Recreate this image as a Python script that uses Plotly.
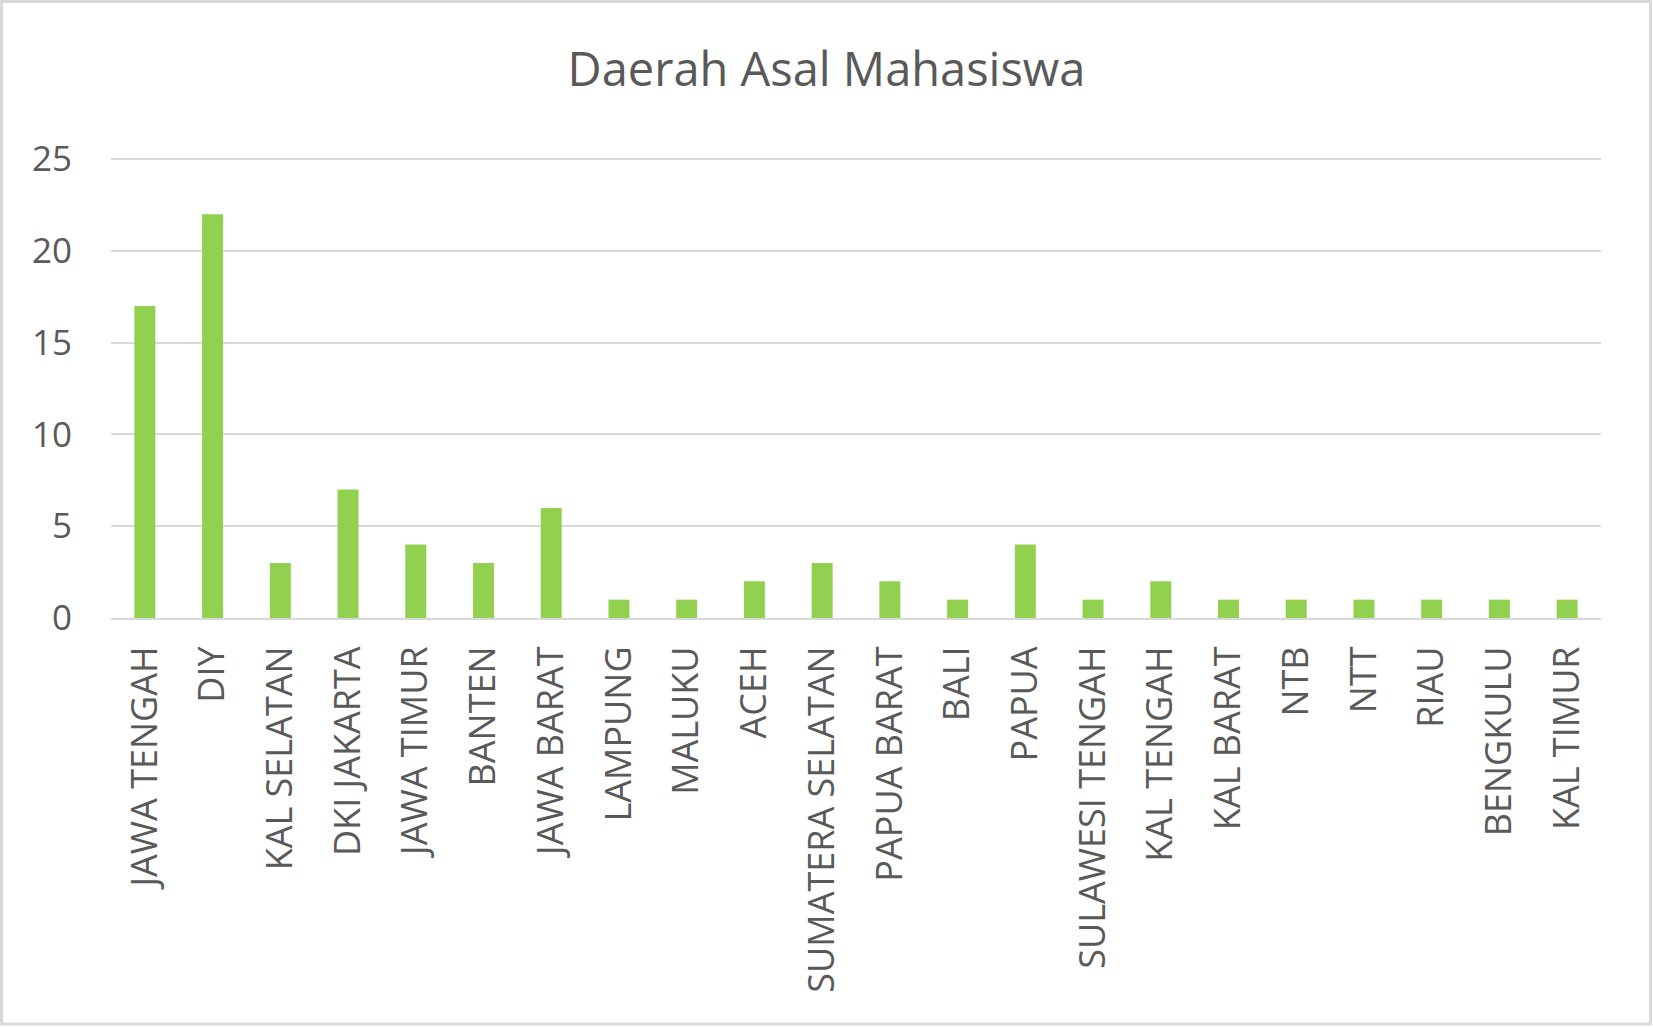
import plotly.graph_objects as go

# Asal daerah mahasiswa (jumlah per provinsi)
categories = [
    "JAWA TENGAH", "DIY", "KAL SELATAN", "DKI JAKARTA", "JAWA TIMUR", "BANTEN",
    "JAWA BARAT", "LAMPUNG", "MALUKU", "ACEH", "SUMATERA SELATAN", "PAPUA BARAT",
    "BALI", "PAPUA", "SULAWESI TENGAH", "KAL TENGAH", "KAL BARAT", "NTB", "NTT",
    "RIAU", "BENGKULU", "KAL TIMUR",
]
counts = [17, 22, 3, 7, 4, 3, 6, 1, 1, 2, 3, 2, 1, 4, 1, 2, 1, 1, 1, 1, 1, 1]
y_ticks = [0, 5, 10, 15, 20, 25]
y_max = 25.5

W, H = 1653, 1027
ML, MR, MT, MB = 111, 52, 150, 409
TEXT = "#595959"
GRID = "#D9D9D9"
FONT = "Open Sans"

fig = go.Figure(
    go.Bar(
        x=categories,
        y=counts,
        marker=dict(color="#92D050", line=dict(width=0)),
        hoverinfo="x+y",
    )
)

# chart-area border, converted from pixels to paper coordinates
pw, ph = W - ML - MR, H - MT - MB
def px_x(v):
    return (v - ML) / pw
def px_y(v):
    return (H - MB - v) / ph

fig.add_shape(
    type="rect", xref="paper", yref="paper",
    x0=px_x(1.5), x1=px_x(W - 2.5), y0=px_y(H - 3), y1=px_y(1.5),
    line=dict(color=GRID, width=3), fillcolor="rgba(0,0,0,0)", layer="below",
)

fig.update_layout(
    width=W, height=H,
    margin=dict(l=ML, r=MR, t=MT, b=MB),
    paper_bgcolor="white", plot_bgcolor="white",
    bargap=0.69,
    showlegend=False,
    title=dict(
        text="Daerah Asal Mahasiswa",
        x=0.5, xref="container", xanchor="center",
        y=1 - 70 / H, yanchor="middle",
        font=dict(family=FONT, size=47, color=TEXT),
    ),
    font=dict(family=FONT, color=TEXT),
)

fig.update_xaxes(
    tickangle=-90,
    tickfont=dict(family=FONT, size=36, color=TEXT),
    showgrid=False,
    showline=True, linecolor=GRID, linewidth=2,
    ticks="", ticklabelstandoff=12,
)
fig.update_yaxes(
    range=[0, y_max],
    tickvals=y_ticks,
    tickfont=dict(family=FONT, size=35, color=TEXT),
    showgrid=True, gridcolor=GRID, gridwidth=2,
    zeroline=False, showline=False,
    ticks="", ticklabelstandoff=38,
)

fig.write_html("out.html")
